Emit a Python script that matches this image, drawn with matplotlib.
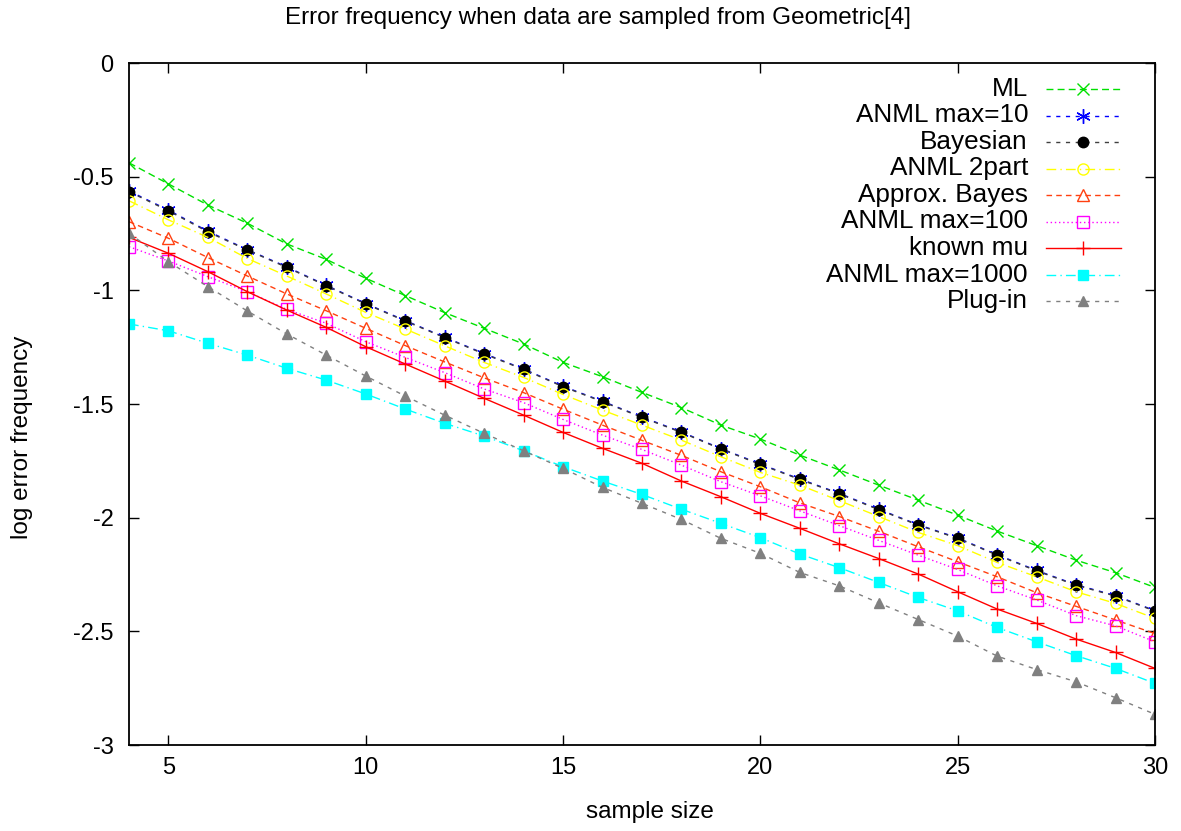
import matplotlib
matplotlib.use("Agg")
import matplotlib.pyplot as plt
from matplotlib.lines import Line2D

plt.rcParams['font.family'] = ['Liberation Sans', 'DejaVu Sans']

sample_size = list(range(4, 31))

ml = [-0.439, -0.532, -0.625, -0.705, -0.796, -0.864, -0.947, -1.023, -1.098, -1.167,
      -1.236, -1.317, -1.380, -1.449, -1.516, -1.593, -1.654, -1.725, -1.790, -1.857,
      -1.923, -1.989, -2.059, -2.123, -2.187, -2.242, -2.307]
bayesian = [-0.566, -0.650, -0.743, -0.823, -0.899, -0.980, -1.060, -1.135, -1.208, -1.280,
            -1.348, -1.424, -1.490, -1.559, -1.625, -1.698, -1.766, -1.832, -1.895, -1.965,
            -2.033, -2.091, -2.165, -2.234, -2.297, -2.345, -2.411]
anml10 = [-0.563, -0.647, -0.740, -0.821, -0.897, -0.978, -1.058, -1.133, -1.206, -1.278,
          -1.346, -1.422, -1.488, -1.557, -1.623, -1.696, -1.764, -1.830, -1.893, -1.963,
          -2.031, -2.089, -2.163, -2.232, -2.295, -2.343, -2.409]
anml2part = [-0.606, -0.690, -0.767, -0.860, -0.937, -1.016, -1.097, -1.170, -1.244, -1.317,
             -1.383, -1.458, -1.527, -1.593, -1.659, -1.732, -1.801, -1.857, -1.925, -1.995,
             -2.065, -2.123, -2.197, -2.260, -2.326, -2.377, -2.443]
approx_bayes = [-0.698, -0.771, -0.856, -0.937, -1.016, -1.090, -1.167, -1.243, -1.315, -1.385,
                -1.450, -1.523, -1.593, -1.660, -1.726, -1.798, -1.864, -1.935, -1.995, -2.060,
                -2.128, -2.194, -2.260, -2.330, -2.390, -2.450, -2.510]
anml100 = [-0.808, -0.871, -0.940, -1.006, -1.084, -1.145, -1.226, -1.295, -1.362, -1.434,
           -1.494, -1.568, -1.637, -1.700, -1.769, -1.842, -1.904, -1.970, -2.035, -2.100,
           -2.165, -2.228, -2.300, -2.362, -2.431, -2.476, -2.546]
known_mu = [-0.767, -0.837, -0.918, -1.006, -1.087, -1.163, -1.248, -1.324, -1.399, -1.475,
            -1.549, -1.625, -1.695, -1.761, -1.839, -1.908, -1.981, -2.047, -2.115, -2.180,
            -2.248, -2.326, -2.402, -2.465, -2.534, -2.593, -2.663]
anml1000 = [-1.148, -1.178, -1.233, -1.285, -1.343, -1.395, -1.456, -1.522, -1.585, -1.641,
            -1.706, -1.776, -1.839, -1.898, -1.963, -2.025, -2.088, -2.160, -2.220, -2.285,
            -2.351, -2.410, -2.483, -2.546, -2.607, -2.663, -2.729]
plug_in = [-0.749, -0.874, -0.984, -1.091, -1.192, -1.285, -1.377, -1.465, -1.549, -1.629,
           -1.706, -1.783, -1.867, -1.937, -2.008, -2.091, -2.157, -2.241, -2.300, -2.375,
           -2.448, -2.521, -2.609, -2.668, -2.722, -2.792, -2.865]

labels = ["ML", "ANML max=10", "Bayesian", "ANML 2part", "Approx. Bayes",
          "ANML max=100", "known mu", "ANML max=1000", "Plug-in"]
series = [ml, anml10, bayesian, anml2part, approx_bayes, anml100, known_mu, anml1000, plug_in]

styles = [
    dict(color='#00e000', ls=(0, (5, 3)), marker='x', ms=8, mfc='none', mew=1.0),
    dict(color='#0000ff', ls=(0, (3, 4)), marker=(6, 2, 0), ms=10.5, mfc='none', mew=1.0),
    dict(color='#404040', ls=(0, (3, 4)), marker='o', ms=7.5, mfc='black', mec='black', mew=1.0),
    dict(color='#ffff00', ls=(0, (7, 3, 1, 3)), marker='o', ms=8, mfc='none', mew=1.0),
    dict(color='#ff4010', ls=(0, (4, 3)), marker='^', ms=8, mfc='none', mew=1.0),
    dict(color='#ff00ff', ls=(0, (1, 2)), marker='s', ms=8, mfc='none', mew=1.0),
    dict(color='#ff0000', ls='-', marker='+', ms=9.5, mfc='none', mew=1.0),
    dict(color='#00ffff', ls=(0, (7, 3, 1, 3)), marker='s', ms=7.5, mfc='#00ffff', mec='#00ffff', mew=1.0),
    dict(color='#808080', ls=(0, (3, 4)), marker='^', ms=7, mfc='#808080', mec='#808080', mew=1.0),
]

W, H = 1181, 831
fig = plt.figure(figsize=(W/100, H/100), dpi=100)
ax = fig.add_axes([129/W, 1 - 745/H, (1155-129)/W, (745-63)/H])

for lab, ys, st in zip(labels, series, styles):
    st = dict(st)
    color = st.pop('color')
    ls = st.pop('ls')
    ax.plot(sample_size, ys, color=color, linestyle=ls, lw=1.0, label=lab, **st)

ax.set_xlim(4, 30)
ax.set_ylim(-3, 0)
ax.set_xticks([5, 10, 15, 20, 25, 30])
ax.set_yticks([0, -0.5, -1, -1.5, -2, -2.5, -3])
ax.set_yticklabels(["0", "-0.5", "-1", "-1.5", "-2", "-2.5", "-3"])
ax.tick_params(direction='in', length=7.5, width=1.0, top=True, right=True, labelsize=17)
ax.tick_params(axis='x', pad=9)
ax.tick_params(axis='y', pad=11)
for sp in ax.spines.values():
    sp.set_linewidth(1.3)

fig.text(650/W, 1 - 812/H, "sample size", fontsize=17.5, ha='center', va='center')
fig.text(22/W, 1 - 437/H, "log error frequency", fontsize=17.5, ha='center', va='center',
         rotation=90)
fig.text(598/W, 1 - 18/H, "Error frequency when data are sampled from Geometric[4]",
         fontsize=17.5, ha='center', va='center')

# gnuplot-style key: text right-aligned, sample line to the right
row0, drow = 89, 26.5
for i, (lab, st) in enumerate(zip(labels, styles)):
    st = dict(st)
    color = st.pop('color')
    ls = st.pop('ls')
    yy = 1 - (row0 + i * drow) / H
    fig.text(1028/W, yy, lab, fontsize=18.8, ha='right', va='center')
    ln = Line2D([1046/W, 1083/W, 1121/W], [yy, yy, yy], transform=fig.transFigure,
                color=color, linestyle=ls, lw=1.0, markevery=[1], **st)
    fig.add_artist(ln)

fig.savefig("out.png", dpi=100)
